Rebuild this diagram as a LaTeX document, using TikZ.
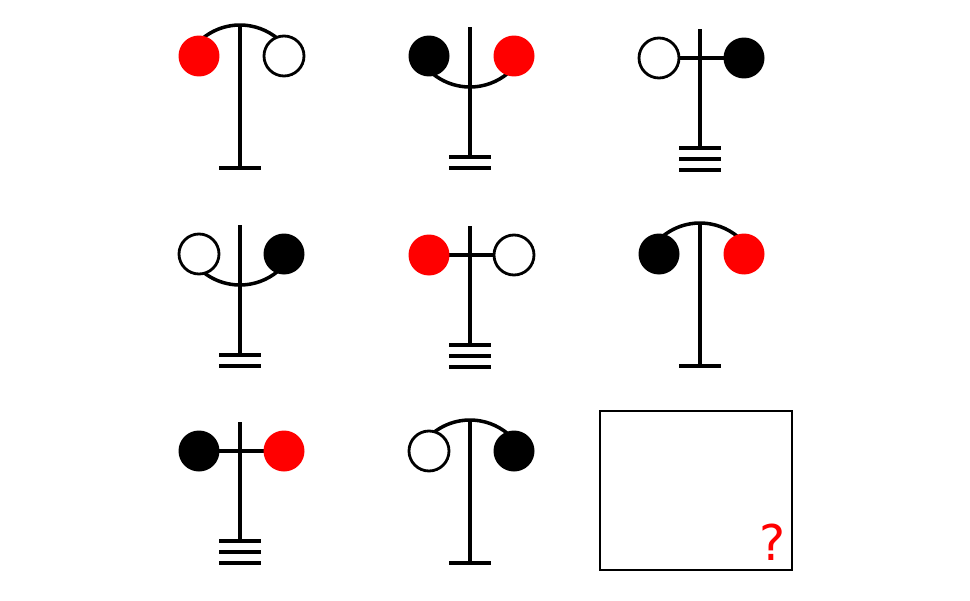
\documentclass[tikz,border=0pt]{standalone}
\usepackage{fontspec}
\newfontfamily\qfont{DejaVu Sans}
\tikzset{
  wire/.style={line width=2pt, line cap=butt},
  arm/.style={line width=1.9pt, line cap=butt},
  ballw/.style={circle, minimum size=0.8cm, inner sep=0pt, fill=white, draw=black, line width=1.6pt},
  ballb/.style={circle, minimum size=0.82cm, inner sep=0pt, fill=black},
  ballr/.style={circle, minimum size=0.82cm, inner sep=0pt, fill=red},
  frame/.style={draw=black, line width=1.4pt, fill=white}
}
% #1 name, #2 stem x, #3 circle-centre y (up), #4 left ball style, #5 right ball style,
% #6 arm type (0 arc up, 1 arc down, 2 straight), #7 number of base bars
\newcommand\pendfig[7]{%
  \coordinate (#1L) at ({#2-41},#3);
  \coordinate (#1R) at ({#2+44},#3);
  \coordinate (#1B) at (#2,{#3-112});
  \ifcase#6
    \draw[wire] ({#2},{#3-28}) ++(140:59) arc[start angle=140,end angle=40,radius=59];
    \coordinate (#1T) at (#2,{#3+31});
  \or
    \draw[wire] ({#2},{#3+28}) ++(220:59) arc[start angle=220,end angle=320,radius=59];
    \coordinate (#1T) at (#2,{#3+29});
  \or
    \draw[arm] (#1L) -- (#1R);
    \coordinate (#1T) at (#2,{#3+29});
  \fi
  \coordinate (#1S) at (#2,{#3-112+11*(#7-1)});
  \draw[wire] (#1T) -- (#1S);
  \foreach \k in {1,...,#7}{
    \draw[wire] ([xshift=-21*0.02cm, yshift={11*(\k-1)*0.02cm}]#1B) -- ([xshift=21*0.02cm, yshift={11*(\k-1)*0.02cm}]#1B);
  }
  \node[#4] (#1l) at (#1L) {};
  \node[#5] (#1r) at (#1R) {};
}
\begin{document}
\begin{tikzpicture}[x=0.02cm, y=0.02cm]
\useasboundingbox[fill=white] (0,0) rectangle (970,600);
% row 1
\pendfig{a}{240}{544}{ballr}{ballw}{0}{1}
\pendfig{b}{470}{544}{ballb}{ballr}{1}{2}
\pendfig{c}{700}{542}{ballw}{ballb}{2}{3}
% row 2
\pendfig{d}{240}{346}{ballw}{ballb}{1}{2}
\pendfig{e}{470}{345}{ballr}{ballw}{2}{3}
\pendfig{f}{700}{346}{ballb}{ballr}{0}{1}
% row 3
\pendfig{g}{240}{149}{ballb}{ballr}{2}{3}
\pendfig{h}{470}{149}{ballw}{ballb}{0}{1}
% answer box
\node[frame, minimum width=192*0.02cm, minimum height=159*0.02cm, inner sep=0pt] (box) at (696,109.5) {};
\node[anchor=base, inner sep=0pt, text=red, font=\qfont\fontsize{28}{30}\selectfont] (q) at (773,39.5) {?};
\end{tikzpicture}
\end{document}
